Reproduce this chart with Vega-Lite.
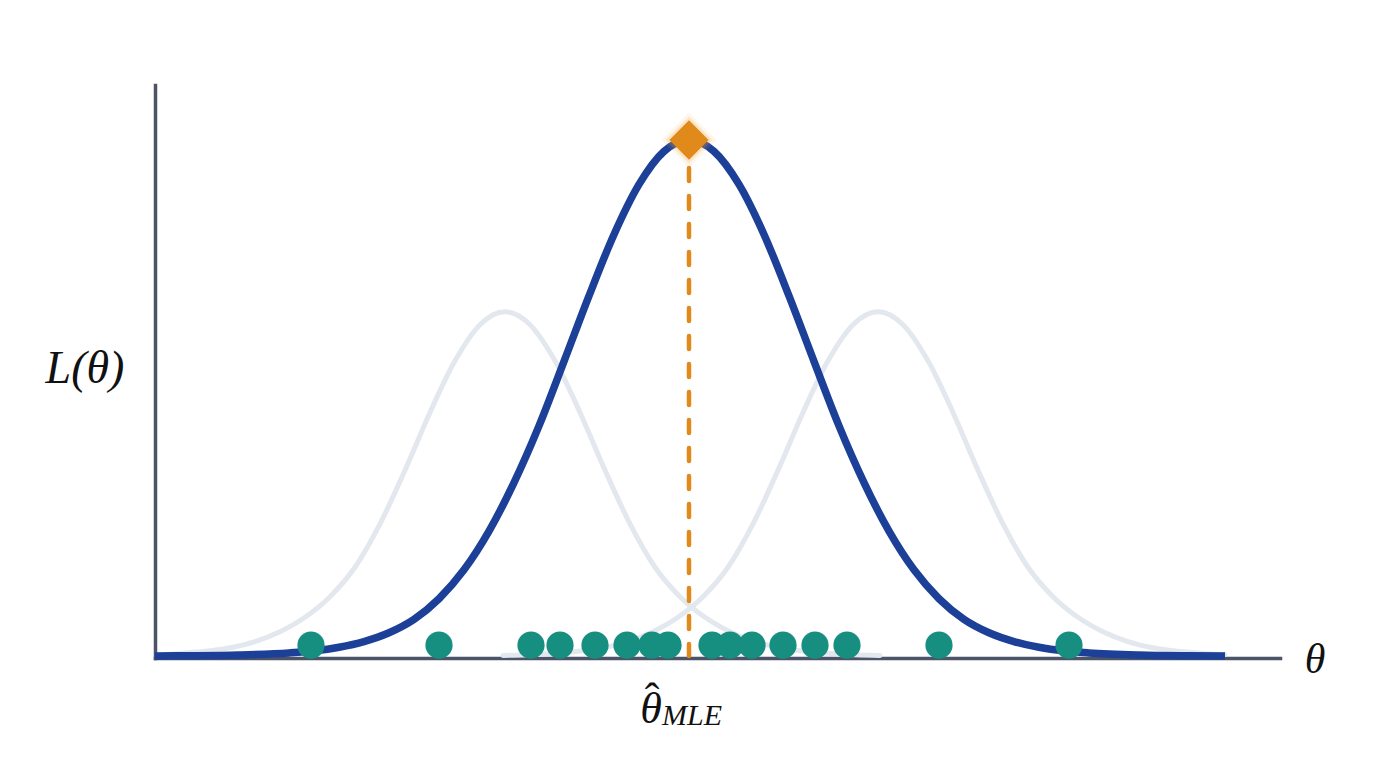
{
  "$schema": "https://vega.github.io/schema/vega-lite/v6.json",
  "width": 1125,
  "height": 573,
  "autosize": {"type": "none"},
  "padding": {"left": 155, "top": 85, "right": 96, "bottom": 110},
  "background": "#ffffff",
  "config": {
    "view": {"stroke": null},
    "axis": {"domainColor": "#4b5567", "domainWidth": 3.5, "domainCap": "square", "ticks": false, "labels": false, "grid": false, "title": null}
  },
  "datasets": {
    "curves": [
      {"curve": "g1", "x": -5.24, "y": 0.003}, {"curve": "g1", "x": -5.09, "y": 0.005}, {"curve": "g1", "x": -4.84, "y": 0.009}, {"curve": "g1", "x": -4.59, "y": 0.016}, {"curve": "g1", "x": -4.34, "y": 0.028}, {"curve": "g1", "x": -4.09, "y": 0.047}, {"curve": "g1", "x": -3.84, "y": 0.075}, {"curve": "g1", "x": -3.59, "y": 0.115}, {"curve": "g1", "x": -3.34, "y": 0.172}, {"curve": "g1", "x": -3.09, "y": 0.256}, {"curve": "g1", "x": -2.84, "y": 0.36}, {"curve": "g1", "x": -2.59, "y": 0.472}, {"curve": "g1", "x": -2.34, "y": 0.572}, {"curve": "g1", "x": -2.09, "y": 0.642}, {"curve": "g1", "x": -1.84, "y": 0.667}, {"curve": "g1", "x": -1.59, "y": 0.642}, {"curve": "g1", "x": -1.34, "y": 0.572}, {"curve": "g1", "x": -1.09, "y": 0.472}, {"curve": "g1", "x": -0.84, "y": 0.36}, {"curve": "g1", "x": -0.59, "y": 0.256}, {"curve": "g1", "x": -0.34, "y": 0.172}, {"curve": "g1", "x": -0.09, "y": 0.115}, {"curve": "g1", "x": 0.16, "y": 0.075}, {"curve": "g1", "x": 0.41, "y": 0.047}, {"curve": "g1", "x": 0.66, "y": 0.028}, {"curve": "g1", "x": 0.91, "y": 0.016}, {"curve": "g1", "x": 1.16, "y": 0.009}, {"curve": "g1", "x": 1.41, "y": 0.005}, {"curve": "g1", "x": 1.66, "y": 0.0025}, {"curve": "g1", "x": 1.91, "y": 0.001},
      {"curve": "g2", "x": -1.86, "y": 0.001}, {"curve": "g2", "x": -1.61, "y": 0.0025}, {"curve": "g2", "x": -1.36, "y": 0.005}, {"curve": "g2", "x": -1.11, "y": 0.009}, {"curve": "g2", "x": -0.86, "y": 0.016}, {"curve": "g2", "x": -0.61, "y": 0.028}, {"curve": "g2", "x": -0.36, "y": 0.047}, {"curve": "g2", "x": -0.11, "y": 0.075}, {"curve": "g2", "x": 0.14, "y": 0.115}, {"curve": "g2", "x": 0.39, "y": 0.172}, {"curve": "g2", "x": 0.64, "y": 0.256}, {"curve": "g2", "x": 0.89, "y": 0.36}, {"curve": "g2", "x": 1.14, "y": 0.472}, {"curve": "g2", "x": 1.39, "y": 0.572}, {"curve": "g2", "x": 1.64, "y": 0.642}, {"curve": "g2", "x": 1.89, "y": 0.667}, {"curve": "g2", "x": 2.14, "y": 0.642}, {"curve": "g2", "x": 2.39, "y": 0.572}, {"curve": "g2", "x": 2.64, "y": 0.472}, {"curve": "g2", "x": 2.89, "y": 0.36}, {"curve": "g2", "x": 3.14, "y": 0.256}, {"curve": "g2", "x": 3.39, "y": 0.172}, {"curve": "g2", "x": 3.64, "y": 0.115}, {"curve": "g2", "x": 3.89, "y": 0.075}, {"curve": "g2", "x": 4.14, "y": 0.047}, {"curve": "g2", "x": 4.39, "y": 0.028}, {"curve": "g2", "x": 4.64, "y": 0.016}, {"curve": "g2", "x": 4.89, "y": 0.009}, {"curve": "g2", "x": 5.14, "y": 0.005}, {"curve": "g2", "x": 5.36, "y": 0.003},
      {"curve": "blue", "x": -5.34, "y": 0.0}, {"curve": "blue", "x": -5.0, "y": 0.0005}, {"curve": "blue", "x": -4.5, "y": 0.002}, {"curve": "blue", "x": -4.0, "y": 0.006}, {"curve": "blue", "x": -3.75, "y": 0.01}, {"curve": "blue", "x": -3.5, "y": 0.017}, {"curve": "blue", "x": -3.25, "y": 0.028}, {"curve": "blue", "x": -3.0, "y": 0.045}, {"curve": "blue", "x": -2.75, "y": 0.071}, {"curve": "blue", "x": -2.5, "y": 0.111}, {"curve": "blue", "x": -2.25, "y": 0.167}, {"curve": "blue", "x": -2.0, "y": 0.242}, {"curve": "blue", "x": -1.75, "y": 0.336}, {"curve": "blue", "x": -1.5, "y": 0.446}, {"curve": "blue", "x": -1.25, "y": 0.571}, {"curve": "blue", "x": -1.0, "y": 0.698}, {"curve": "blue", "x": -0.75, "y": 0.817}, {"curve": "blue", "x": -0.5, "y": 0.914}, {"curve": "blue", "x": -0.25, "y": 0.978}, {"curve": "blue", "x": 0.0, "y": 1.0}, {"curve": "blue", "x": 0.25, "y": 0.978}, {"curve": "blue", "x": 0.5, "y": 0.914}, {"curve": "blue", "x": 0.75, "y": 0.817}, {"curve": "blue", "x": 1.0, "y": 0.698}, {"curve": "blue", "x": 1.25, "y": 0.571}, {"curve": "blue", "x": 1.5, "y": 0.446}, {"curve": "blue", "x": 1.75, "y": 0.336}, {"curve": "blue", "x": 2.0, "y": 0.242}, {"curve": "blue", "x": 2.25, "y": 0.167}, {"curve": "blue", "x": 2.5, "y": 0.111}, {"curve": "blue", "x": 2.75, "y": 0.071}, {"curve": "blue", "x": 3.0, "y": 0.045}, {"curve": "blue", "x": 3.25, "y": 0.028}, {"curve": "blue", "x": 3.5, "y": 0.017}, {"curve": "blue", "x": 3.75, "y": 0.01}, {"curve": "blue", "x": 4.0, "y": 0.006}, {"curve": "blue", "x": 4.5, "y": 0.002}, {"curve": "blue", "x": 5.0, "y": 0.0005}, {"curve": "blue", "x": 5.36, "y": 0.0}
    ],
    "dots": [
      {"x": -3.78, "y": 0.021}, {"x": -2.5, "y": 0.021}, {"x": -1.58, "y": 0.021}, {"x": -1.29, "y": 0.021}, {"x": -0.94, "y": 0.021}, {"x": -0.62, "y": 0.021}, {"x": -0.37, "y": 0.021}, {"x": -0.21, "y": 0.021}, {"x": 0.23, "y": 0.021}, {"x": 0.41, "y": 0.021}, {"x": 0.63, "y": 0.021}, {"x": 0.94, "y": 0.021}, {"x": 1.26, "y": 0.021}, {"x": 1.58, "y": 0.021}, {"x": 2.5, "y": 0.021}, {"x": 3.8, "y": 0.021}
    ],
    "peak": [{"x": 0, "y": 1.0, "y0": 0.0}]
  },
  "layer": [
    {
      "data": {"name": "curves"},
      "transform": [{"filter": "datum.curve !== 'blue'"}],
      "mark": {"type": "line", "interpolate": "monotone", "color": "#e3e7ee", "strokeWidth": 5, "strokeCap": "round"},
      "encoding": {
        "x": {"field": "x", "type": "quantitative", "scale": {"domain": [-5.34, 5.91], "nice": false, "zero": false}, "axis": {"orient": "bottom"}},
        "y": {"field": "y", "type": "quantitative", "scale": {"domain": [-0.0039, 1.1066], "nice": false, "zero": false}, "axis": {"orient": "left"}},
        "detail": {"field": "curve"}
      }
    },
    {
      "data": {"name": "curves"},
      "transform": [{"filter": "datum.curve === 'blue'"}],
      "mark": {"type": "line", "interpolate": "monotone", "color": "#1c3f97", "strokeWidth": 7.5, "strokeCap": "butt"},
      "encoding": {
        "x": {"field": "x", "type": "quantitative"},
        "y": {"field": "y", "type": "quantitative"}
      }
    },
    {
      "data": {"name": "peak"},
      "mark": {"type": "rule", "color": "#e08a1c", "strokeWidth": 4.5, "strokeDash": [13, 15], "strokeCap": "round"},
      "encoding": {
        "x": {"field": "x", "type": "quantitative"},
        "y": {"field": "y", "type": "quantitative"},
        "y2": {"field": "y0"}
      }
    },
    {
      "data": {"name": "dots"},
      "mark": {"type": "circle", "color": "#168f80", "opacity": 1, "size": 740},
      "encoding": {
        "x": {"field": "x", "type": "quantitative"},
        "y": {"field": "y", "type": "quantitative"}
      }
    },
    {
      "data": {"name": "peak"},
      "mark": {"type": "point", "shape": "diamond", "filled": true, "color": "#f7b24a", "opacity": 0.12, "size": 3000},
      "encoding": {
        "x": {"field": "x", "type": "quantitative"},
        "y": {"field": "y", "type": "quantitative"}
      }
    },
    {
      "data": {"name": "peak"},
      "mark": {"type": "point", "shape": "diamond", "filled": true, "color": "#f5a73a", "opacity": 0.2, "size": 2200},
      "encoding": {
        "x": {"field": "x", "type": "quantitative"},
        "y": {"field": "y", "type": "quantitative"}
      }
    },
    {
      "data": {"name": "peak"},
      "mark": {"type": "point", "shape": "diamond", "filled": true, "color": "#e08a1c", "opacity": 1, "size": 1550},
      "encoding": {
        "x": {"field": "x", "type": "quantitative"},
        "y": {"field": "y", "type": "quantitative"}
      }
    },
    {
      "data": {"values": [{"label": "L(θ)", "x": -6.04, "y": 0.529}]},
      "mark": {"type": "text", "font": "Liberation Serif", "fontStyle": "italic", "fontSize": 46, "align": "center", "baseline": "alphabetic", "color": "#111111"},
      "encoding": {
        "x": {"field": "x", "type": "quantitative"},
        "y": {"field": "y", "type": "quantitative"},
        "text": {"field": "label"}
      }
    },
    {
      "data": {"values": [{"label": "θ", "x": 6.26, "y": -0.033}]},
      "mark": {"type": "text", "font": "Liberation Serif", "fontStyle": "italic", "fontSize": 42, "align": "center", "baseline": "alphabetic", "color": "#111111"},
      "encoding": {
        "x": {"field": "x", "type": "quantitative"},
        "y": {"field": "y", "type": "quantitative"},
        "text": {"field": "label"}
      }
    },
    {
      "data": {"values": [{"label": "θ", "x": -0.38, "y": -0.13}]},
      "mark": {"type": "text", "font": "Liberation Serif", "fontStyle": "italic", "fontSize": 44, "align": "center", "baseline": "alphabetic", "color": "#111111"},
      "encoding": {
        "x": {"field": "x", "type": "quantitative"},
        "y": {"field": "y", "type": "quantitative"},
        "text": {"field": "label"}
      }
    },
    {
      "data": {"values": [{"label": "ˆ", "x": -0.37, "y": -0.11}]},
      "mark": {"type": "text", "font": "Liberation Serif", "fontSize": 44, "align": "center", "baseline": "alphabetic", "color": "#111111"},
      "encoding": {
        "x": {"field": "x", "type": "quantitative"},
        "y": {"field": "y", "type": "quantitative"},
        "text": {"field": "label"}
      }
    },
    {
      "data": {"values": [{"label": "MLE", "x": -0.27, "y": -0.134}]},
      "mark": {"type": "text", "font": "Liberation Serif", "fontStyle": "italic", "fontSize": 30, "align": "left", "baseline": "alphabetic", "color": "#111111"},
      "encoding": {
        "x": {"field": "x", "type": "quantitative"},
        "y": {"field": "y", "type": "quantitative"},
        "text": {"field": "label"}
      }
    }
  ]
}
